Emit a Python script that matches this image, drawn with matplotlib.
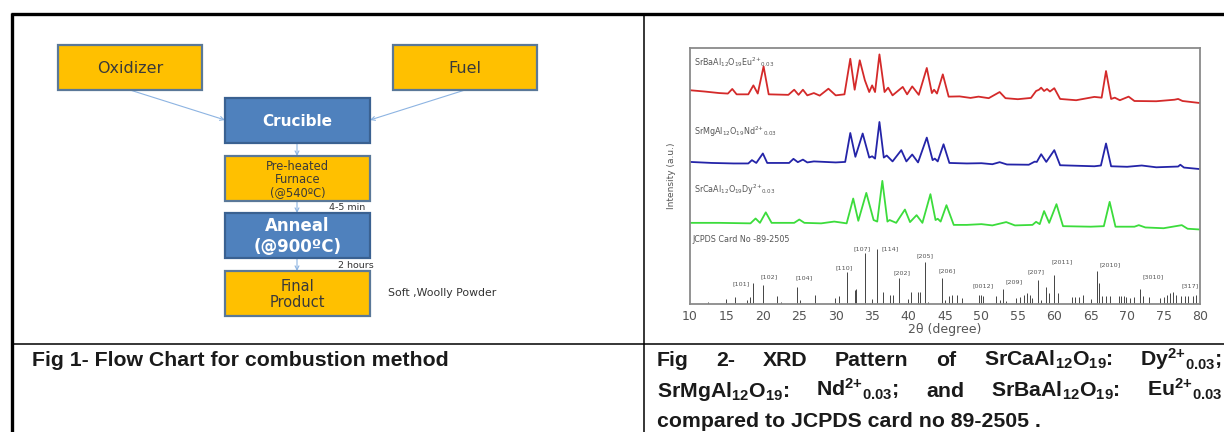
import matplotlib
matplotlib.use("Agg")
import matplotlib.pyplot as plt
from matplotlib.patches import Rectangle, FancyArrowPatch

plt.rcParams['mathtext.default'] = 'regular'

# ---------------- XRD data (2theta in degrees, stacked intensity in a.u.) ----------------
eu_x = [10, 12, 14, 15.2, 15.8, 16.4, 18.0, 18.7, 19.3, 20.1, 20.8, 23.5, 24.3, 24.9, 25.5, 26.1,
        27.0, 27.8, 29.0, 30.0, 31.2, 32.0, 32.6, 33.3, 34.0, 34.6, 35.0, 35.4, 36.0, 36.7, 37.2,
        37.8, 39.2, 39.8, 40.5, 41.4, 42.5, 43.2, 43.5, 43.9, 44.7, 45.5, 47.0, 48.5, 49.6, 51.0,
        52.5, 53.3, 55.0, 56.8, 57.5, 57.9, 58.2, 58.6, 59.0, 59.4, 60.0, 60.8, 63.0, 65.5, 66.5,
        67.1, 67.8, 68.3, 69.0, 70.2, 71.0, 74.0, 76.5, 77.0, 77.6, 80.0]
eu_y = [83.5, 83.0, 82.4, 82.2, 84.0, 81.9, 81.9, 85.4, 82.2, 92.8, 81.9, 81.7, 83.7, 81.7, 83.7, 81.5,
        82.4, 81.4, 84.1, 81.5, 81.9, 95.8, 83.7, 95.2, 87.4, 82.8, 85.4, 82.8, 97.5, 82.8, 84.5,
        81.5, 84.8, 81.9, 85.0, 81.7, 92.2, 82.4, 83.7, 82.2, 89.7, 81.0, 81.1, 80.5, 81.0, 80.4,
        82.8, 80.4, 80.0, 80.5, 83.2, 83.7, 84.5, 83.2, 84.0, 83.0, 84.3, 80.1, 79.6, 80.9, 80.6,
        91.0, 80.1, 80.6, 79.6, 81.0, 79.3, 79.2, 79.8, 80.1, 79.3, 78.5]

nd_x = [10, 13, 16, 18.0, 18.5, 19.1, 20.0, 20.6, 23.6, 24.2, 24.8, 25.5, 26.1, 27.0, 30.0, 31.3,
        32.0, 32.7, 33.7, 34.6, 35.0, 35.4, 36.0, 36.6, 37.0, 37.8, 39.0, 39.7, 40.5, 41.3, 42.5,
        43.3, 43.6, 44.0, 44.8, 45.6, 48.0, 50.0, 51.5, 52.5, 53.5, 56.5, 57.3, 57.6, 58.2, 58.9,
        60.0, 60.8, 65.5, 66.4, 67.1, 67.8, 70.0, 72.0, 74.0, 77.0, 77.3, 77.8, 80.0]
nd_y = [55.5, 55.1, 54.9, 54.9, 56.2, 55.1, 58.8, 55.1, 55.1, 56.7, 55.4, 56.4, 55.3, 55.7, 55.3, 55.5,
        66.8, 57.5, 66.6, 57.2, 57.7, 56.8, 71.1, 57.2, 58.0, 55.7, 60.1, 55.7, 58.4, 55.3, 65.0,
        56.2, 56.8, 55.7, 62.4, 55.1, 54.9, 55.0, 54.6, 55.4, 54.5, 54.4, 55.6, 55.5, 58.5, 55.5,
        60.1, 54.2, 53.8, 54.1, 62.7, 53.8, 53.6, 54.1, 53.4, 53.7, 54.4, 53.3, 52.7]

dy_x = [10, 14, 18.3, 19.0, 19.6, 20.4, 21.2, 24.3, 25.0, 25.7, 28.0, 29.8, 31.5, 32.4, 33.1, 34.2,
        35.2, 35.7, 36.4, 37.1, 37.4, 38.3, 39.5, 40.2, 41.1, 41.9, 43.0, 43.7, 44.0, 44.4, 45.2,
        46.2, 48.0, 50.0, 51.5, 53.4, 54.6, 57.0, 57.5, 58.0, 58.6, 59.3, 60.3, 61.2, 65.0, 66.8,
        67.6, 68.4, 71.0, 71.6, 72.5, 75.0, 77.5, 78.3, 80.0]
dy_y = [31.7, 31.7, 31.5, 33.4, 31.7, 35.8, 31.7, 31.7, 33.0, 31.7, 31.5, 32.2, 31.5, 41.2, 32.5, 43.4,
        32.8, 32.2, 48.1, 32.2, 32.8, 31.7, 36.9, 32.0, 34.7, 31.7, 42.9, 32.8, 33.3, 32.2, 38.6,
        30.9, 30.9, 31.2, 30.7, 32.0, 30.7, 30.9, 32.1, 31.2, 36.3, 31.7, 39.0, 30.4, 30.2, 30.4,
        39.9, 30.2, 30.2, 30.8, 29.9, 29.6, 30.8, 29.4, 29.1]

# JCPDS card 89-2505 reference lines
card_pos = [12.5, 15.0, 16.2, 17.8, 18.2, 18.6, 20.0, 21.9, 22.5, 24.7, 25.1, 27.2, 29.9, 30.4, 31.6,
            32.6, 32.8, 34.0, 35.0, 35.7, 36.5, 37.4, 37.8, 38.7, 39.9, 40.3, 41.3, 41.5, 42.3, 42.6,
            44.6, 45.0, 45.6, 46.0, 46.6, 47.3, 49.7, 50.0, 50.2, 52.0, 52.5, 52.9, 53.4, 54.8, 55.3,
            55.8, 56.2, 56.6, 57.0, 57.8, 58.2, 58.8, 59.3, 60.0, 60.5, 62.4, 62.9, 63.4, 63.9, 65.0,
            65.9, 66.1, 66.6, 67.1, 67.7, 68.9, 69.2, 69.5, 69.9, 70.4, 71.0, 71.7, 72.2, 73.0, 74.5,
            75.0, 75.5, 75.9, 76.3, 76.7, 77.4, 77.9, 78.4, 79.0, 79.5]
card_int = [0.9, 1.8, 2.9, 1.6, 2.9, 8.1, 7.4, 3.1, 0.9, 6.5, 1.6, 3.5, 2.2, 3.1, 12.6,
            5.5, 5.7, 19.8, 1.8, 21.3, 4.7, 3.5, 3.5, 10.3, 2.0, 4.8, 4.6, 4.6, 16.5, 0.9,
            10.0, 1.6, 3.1, 3.5, 3.5, 2.5, 3.5, 3.5, 3.1, 3.1, 1.6, 5.7, 1.3, 2.2, 2.9,
            3.5, 4.4, 3.5, 2.2, 9.4, 1.6, 6.5, 4.2, 11.3, 4.4, 2.9, 2.9, 2.9, 3.5, 1.8,
            13.0, 8.1, 3.1, 3.1, 3.1, 3.1, 3.1, 3.1, 2.9, 2.2, 2.9, 5.7, 3.1, 2.9, 2.2,
            2.9, 3.6, 4.4, 4.8, 3.6, 3.1, 3.1, 3.1, 3.1, 3.5]

hkl_labels = ["[101]", "[102]", "[104]", "[110]", "[107]", "[114]", "[202]", "[205]",
              "[206]", "[0012]", "[209]", "[207]", "[2011]", "[2010]", "[3010]", "[317]"]
hkl_x = [17.0, 20.8, 25.6, 31.2, 33.6, 37.4, 39.1, 42.3, 45.3, 50.2, 54.5, 57.5, 61.1, 67.7, 73.6, 78.6]
hkl_y = [7.8, 10.7, 10.4, 14.3, 21.7, 21.7, 12.0, 18.7, 13.0, 7.0, 8.7, 12.6, 16.3, 15.2, 10.8, 7.0]

series_names = ["SrBaAl$_{12}$O$_{19}$Eu$^{2{+}}$$_{0.03}$",
                "SrMgAl$_{12}$O$_{19}$Nd$^{2{+}}$$_{0.03}$",
                "SrCaAl$_{12}$O$_{19}$Dy$^{2{+}}$$_{0.03}$"]
series_label_y = [94.5, 67.2, 44.7]

# ---------------- flow chart ----------------
box_text = ["Oxidizer", "Fuel", "Crucible", "Pre-heated\nFurnace\n(@540ºC)", "Anneal\n(@900ºC)", "Final\nProduct"]
box_xy = [(58, 45), (393, 45), (225, 98), (225, 156), (225, 213), (225, 271)]
box_kind = ["o", "o", "b", "o", "b", "o"]

ORANGE, BLUE = "#ffc000", "#4f81bd"

fig = plt.figure(figsize=(12.24, 4.32), dpi=100)
ax0 = fig.add_axes([0, 0, 1, 1])
ax0.set_xlim(0, 1224)
ax0.set_ylim(432, 0)
ax0.axis('off')

# table grid
ax0.plot([11, 1224], [14, 14], color='black', lw=2.4, solid_capstyle='butt')
ax0.plot([12, 12], [13, 432], color='black', lw=2.4, solid_capstyle='butt')
ax0.plot([644, 644], [14, 432], color='black', lw=1.1)
ax0.plot([12, 1224], [344, 344], color='black', lw=1.1)

font_sizes = [11.5, 11.5, 11, 8.3, 12, 10.5]
for txt, (x, y), kind, fs in zip(box_text, box_xy, box_kind, font_sizes):
    w = 144 if txt in ("Oxidizer", "Fuel") else 145
    h = 45
    fc = ORANGE if kind == "o" else BLUE
    ec = "#5a7898" if kind == "o" else "#3a6191"
    ax0.add_patch(Rectangle((x, y), w, h, facecolor=fc, edgecolor=ec, lw=1.6, zorder=2))
    color = "#3a3a3a" if kind == "o" else "white"
    weight = "normal" if kind == "o" else "bold"
    ax0.text(x + w / 2, y + h / 2 + 1, txt, ha='center', va='center', fontsize=fs,
             color=color, fontweight=weight, family='DejaVu Sans',
             linespacing=1.05 if txt.startswith("Pre") else 1.15, zorder=3)

arrows = [((130, 90), (225, 120)), ((465, 90), (370, 120)), ((297, 143), (297, 156)),
          ((297, 201), (297, 213)), ((297, 258), (297, 271))]
for a, b in arrows:
    ax0.add_patch(FancyArrowPatch(a, b, arrowstyle='->', mutation_scale=7, lw=0.8,
                                  color='#8db4e2', shrinkA=0, shrinkB=0, zorder=1))

ax0.text(329, 208, "4-5 min", fontsize=6.8, color='#333333', va='center', family='DejaVu Sans')
ax0.text(338, 265, "2 hours", fontsize=6.8, color='#333333', va='center', family='DejaVu Sans')
ax0.text(388, 293, "Soft ,Woolly Powder", fontsize=7.8, color='#333333', va='center', family='DejaVu Sans')

# ---------------- XRD panel ----------------
ax = fig.add_axes([690 / 1224, 128 / 432, 510 / 1224, 256 / 432])
ax.plot(eu_x, eu_y, color='#d42a2a', lw=1.3)
ax.plot(nd_x, nd_y, color='#2424a8', lw=1.3)
ax.plot(dy_x, dy_y, color='#3cdc3c', lw=1.3)
ax.vlines(card_pos, 0, card_int, color='#444444', lw=0.7)
for lab, x, y in zip(hkl_labels, hkl_x, hkl_y):
    ax.text(x, y, lab, fontsize=4.6, color='#555555', ha='center', va='center')
for name, y in zip(series_names, series_label_y):
    ax.text(10.6, y, name, fontsize=5.8, color='#555555', va='center')
ax.text(10.4, 25.0, "JCPDS Card No -89-2505", fontsize=5.8, color='#555555', va='center')

ax.set_xlim(10, 80)
ax.set_ylim(0, 100)
ax.set_xticks(range(10, 81, 5))
ax.set_yticks([])
ax.tick_params(axis='x', length=0, pad=4, labelsize=9, labelcolor='#555555')
ax.set_xlabel("2θ (degree)", fontsize=9, color='#555555', labelpad=0)
ax.set_ylabel("Intensity (a.u.)", fontsize=6.5, color='#555555', labelpad=10)
for s in ax.spines.values():
    s.set_color('#8a8a8a')
    s.set_linewidth(1.3)

# ---------------- captions ----------------
cap_kw = dict(fontsize=15.3, fontweight='bold', family='Liberation Sans', color='#1a1a1a',
              ha='left', va='baseline')
ax0.text(32, 366, "Fig 1- Flow Chart for combustion method", **cap_kw)

fig.canvas.draw()
renderer = fig.canvas.get_renderer()

caption_lines = [
    ["Fig", "2-", "XRD", "Pattern", "of", "SrCaAl$_{12}$O$_{19}$:", "Dy$^{2{+}}$$_{0.03}$;"],
    ["SrMgAl$_{12}$O$_{19}$:", "Nd$^{2{+}}$$_{0.03}$;", "and", "SrBaAl$_{12}$O$_{19}$:", "Eu$^{2{+}}$$_{0.03}$"],
]
for words, yb in zip(caption_lines, [366, 397]):
    texts = [ax0.text(0, yb, w, **cap_kw) for w in words]
    widths = [t.get_window_extent(renderer).width for t in texts]
    gap = (1222 - 657 - sum(widths)) / (len(words) - 1)
    x = 657
    for t, w in zip(texts, widths):
        t.set_x(x)
        x += w + gap
ax0.text(657, 427, "compared to JCPDS card no 89-2505 .", **cap_kw)

fig.savefig("out.png", dpi=100, facecolor='white')
